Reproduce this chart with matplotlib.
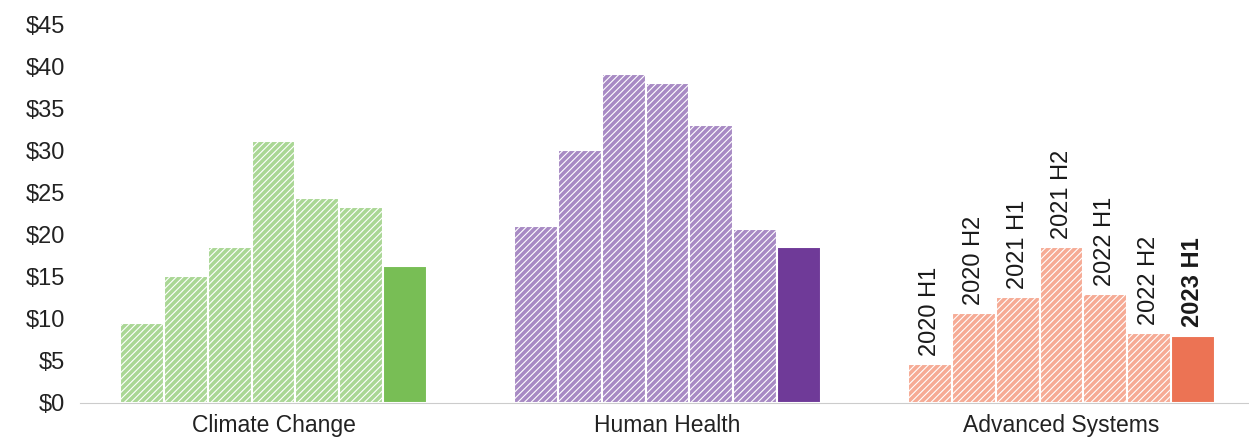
import matplotlib.pyplot as plt
import numpy as np

# Half-year funding per sector, $ billions
sectors = ['Climate Change', 'Human Health', 'Advanced Systems']
periods = ['2020 H1', '2020 H2', '2021 H1', '2021 H2', '2022 H1', '2022 H2', '2023 H1']
climate = [9.5, 15.1, 18.5, 31.1, 24.3, 23.3, 16.3]
health = [21.0, 30.0, 39.1, 38.0, 33.0, 20.7, 18.5]
advanced = [4.6, 10.7, 12.6, 18.5, 12.9, 8.3, 8.0]

light = ['#aad795', '#a88ac4', '#f6ab95']
dark = ['#78be55', '#6f3a98', '#ec7354']

plt.rcParams['font.family'] = ['Liberation Sans', 'DejaVu Sans']
plt.rcParams['hatch.color'] = 'white'
plt.rcParams['hatch.linewidth'] = 0.8

fig = plt.figure(figsize=(12.49, 4.38), dpi=100)
ax = fig.add_axes([0.064, 0.08, 0.936, 0.865])

group_gap = 9
for g, values in enumerate([climate, health, advanced]):
    xs = g * group_gap + np.arange(len(values))
    for i, (x, v) in enumerate(zip(xs, values)):
        last = i == len(values) - 1
        ax.bar(x, v, width=1.0, color=dark[g] if last else light[g],
               hatch=None if last else '/////', edgecolor='white', linewidth=1.5)
        if g == 2:
            ax.annotate(periods[i], (x, v), xytext=(0, 6), textcoords='offset points',
                        rotation=90, ha='center', va='bottom', fontsize=17,
                        color='#1a1a1a', fontweight='bold' if last else 'normal')

ax.set_xlim(-1.42, 25.28)
ax.set_ylim(0, 45)
ax.set_yticks(range(0, 50, 5))
ax.set_yticklabels([f'${v}' for v in range(0, 50, 5)], fontsize=17, color='#222222')
ax.set_xticks([g * group_gap + 3 for g in range(3)])
ax.set_xticklabels(sectors, fontsize=16.5, color='#222222')
ax.tick_params(length=0)
ax.tick_params(axis='y', pad=11)
ax.tick_params(axis='x', pad=8)
for s in ['top', 'right', 'left']:
    ax.spines[s].set_visible(False)
ax.spines['bottom'].set_color('#cccccc')

fig.savefig('out.png', dpi=100)
